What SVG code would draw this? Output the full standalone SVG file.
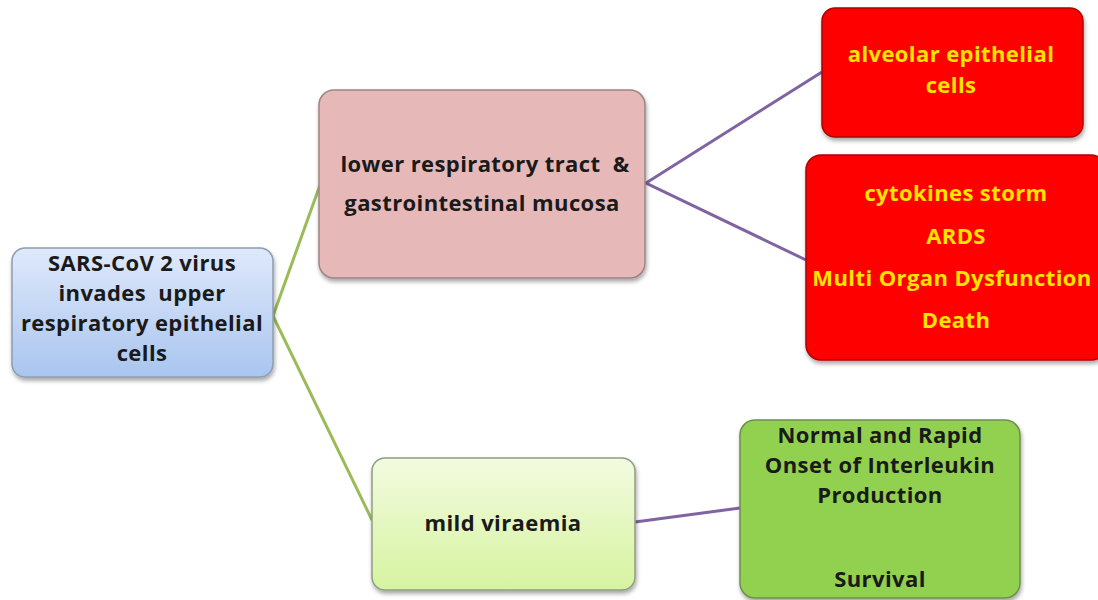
<svg xmlns="http://www.w3.org/2000/svg" width="1098" height="600" viewBox="0 0 1098 600">
<defs>
<linearGradient id="gBlue" x1="0" y1="0" x2="0" y2="1"><stop offset="0" stop-color="#dfe9fb"/><stop offset="1" stop-color="#a9c5ef"/></linearGradient>
<linearGradient id="gLight" x1="0" y1="0" x2="0" y2="1"><stop offset="0" stop-color="#f3fbe0"/><stop offset="1" stop-color="#d6f3a0"/></linearGradient>
<filter id="sh" x="-10%" y="-10%" width="120%" height="125%"><feDropShadow dx="1" dy="3" stdDeviation="2" flood-color="#000" flood-opacity="0.35"/></filter>
</defs>
<style>
text{font-family:"Open Sans",Lato,"Liberation Sans",sans-serif;font-weight:bold;font-size:22px;letter-spacing:0.4px;text-anchor:middle;fill:#1a1a1a}
.y{fill:#ffe400}
.box{filter:url(#sh)}
.cg{stroke:#9bbb59;stroke-width:3;fill:none}
.cp{stroke:#8064a2;stroke-width:3;fill:none}
</style>
<rect width="1098" height="600" fill="#ffffff"/>
<g id="connectors">
<polyline class="cg" points="320,185 273,316 372,520"/>
<polyline class="cp" points="822,72 646,183 806,260"/>
<line class="cp" x1="635" y1="522" x2="740" y2="508"/>
</g>
<g id="n1">
<rect class="box" x="12" y="248" width="261" height="129" rx="13" fill="url(#gBlue)" stroke="#8d9db3" stroke-width="1.5"/>
<text x="142" y="271">SARS-CoV 2 virus</text>
<text x="142" y="301">invades&#160; upper</text>
<text x="142" y="331">respiratory epithelial</text>
<text x="142" y="361">cells</text>
</g>
<g id="n2">
<rect class="box" x="319" y="90" width="326" height="188" rx="15" fill="#e6b9b8" stroke="#9c8583" stroke-width="1.5"/>
<text x="485" y="172">lower respiratory tract&#160; &amp;</text>
<text x="482" y="211">gastrointestinal mucosa</text>
</g>
<g id="n3">
<rect class="box" x="822" y="8" width="261" height="129" rx="13" fill="#ff0000" stroke="#b00000" stroke-width="1.5"/>
<text class="y" x="951" y="62">alveolar epithelial</text>
<text class="y" x="951" y="93">cells</text>
</g>
<g id="n4">
<rect class="box" x="806" y="155" width="300" height="205" rx="15" fill="#ff0000" stroke="#b00000" stroke-width="1.5"/>
<text class="y" x="956" y="201">cytokines storm</text>
<text class="y" x="956" y="244">ARDS</text>
<text class="y" x="952" y="286">Multi Organ Dysfunction</text>
<text class="y" x="956" y="328">Death</text>
</g>
<g id="n5">
<rect class="box" x="372" y="458" width="263" height="132" rx="13" fill="url(#gLight)" stroke="#8e9e80" stroke-width="1.5"/>
<text x="503" y="531">mild viraemia</text>
</g>
<g id="n6">
<rect class="box" x="740" y="420" width="280" height="178" rx="15" fill="#92d050" stroke="#6f8f4a" stroke-width="1.5"/>
<text x="880" y="443">Normal and Rapid</text>
<text x="880" y="473">Onset of Interleukin</text>
<text x="880" y="503">Production</text>
<text x="880" y="587">Survival</text>
</g>
</svg>
